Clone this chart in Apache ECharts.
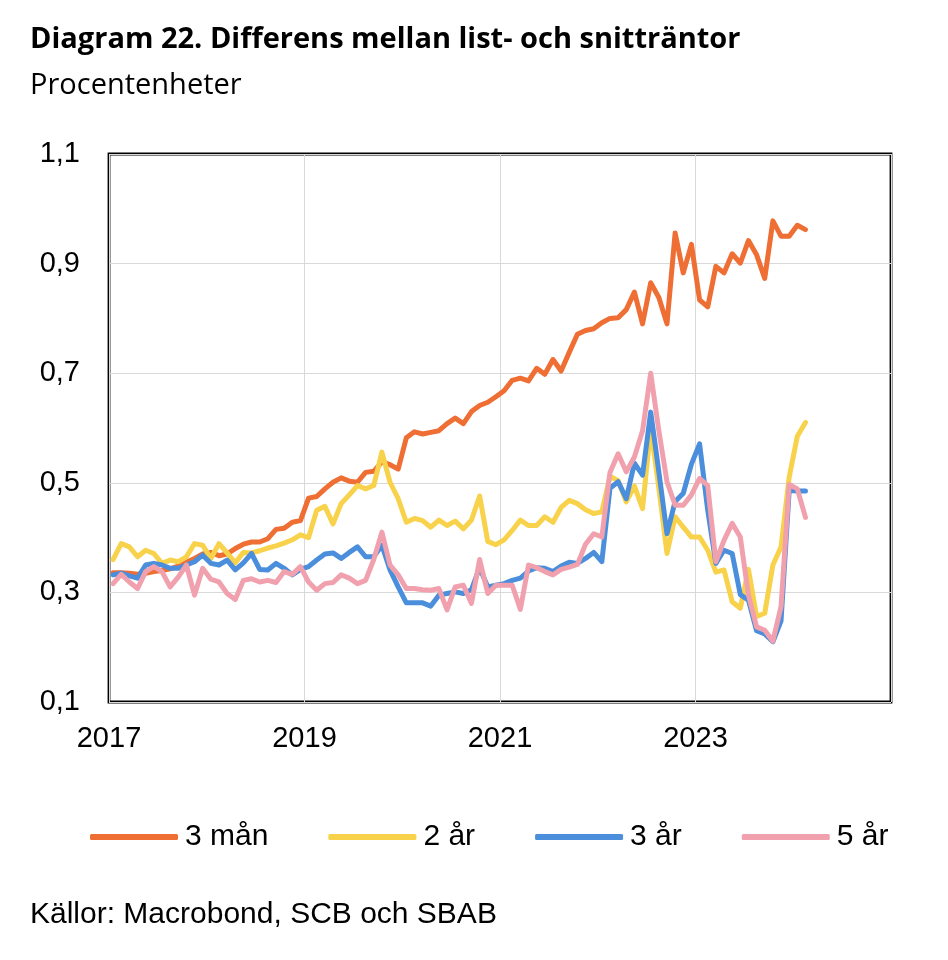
<!DOCTYPE html>
<html>
<head>
<meta charset="utf-8">
<script src="https://cdn.jsdelivr.net/npm/echarts@6/dist/echarts.min.js"></script>
<style>
  html, body { margin: 0; padding: 0; background: #fff; }
  #chart { width: 948px; height: 960px; }
</style>
</head>
<body>
<div id="chart"></div>
<script>
// Månadsdata jan 2017 - feb 2024 (procentenheter)
const startYear = 2017;
const seriesNames = ['3 mån', '2 år', '3 år', '5 år'];
const seriesColors = ['#EE6E34', '#F8D24A', '#4A8EDC', '#F1A1AE'];

const man3 = [
  0.336, 0.336, 0.335, 0.333, 0.335, 0.338, 0.340, 0.343, 0.348, 0.355, 0.362, 0.370, 0.373, 0.367,
  0.370, 0.380, 0.388, 0.392, 0.392, 0.398, 0.415, 0.417, 0.428, 0.431, 0.472, 0.475, 0.489, 0.501, 0.509, 0.503,
  0.501, 0.519, 0.521, 0.538, 0.533, 0.525, 0.582, 0.593, 0.589, 0.592, 0.595, 0.608, 0.618, 0.608, 0.630, 0.641, 0.647, 0.657,
  0.668, 0.687, 0.691, 0.686, 0.709, 0.698, 0.725, 0.704, 0.738, 0.771, 0.778,
  0.781, 0.792, 0.800, 0.801, 0.816, 0.848, 0.790, 0.865, 0.838, 0.790, 0.956, 0.883, 0.935,
  0.834, 0.821, 0.895, 0.883, 0.918, 0.901, 0.942, 0.916, 0.873, 0.978, 0.950, 0.950, 0.970, 0.962
];
const ar2 = [
  0.360, 0.389, 0.383, 0.365, 0.377, 0.371, 0.353, 0.359, 0.356, 0.365, 0.389, 0.386, 0.362, 0.389,
  0.372, 0.354, 0.373, 0.372, 0.376, 0.381, 0.385, 0.390, 0.396, 0.405, 0.400, 0.450, 0.457, 0.425, 0.462, 0.478,
  0.495, 0.489, 0.495, 0.556, 0.501, 0.471, 0.428, 0.435, 0.431, 0.419, 0.432, 0.422, 0.430, 0.416, 0.432, 0.476, 0.393, 0.387,
  0.396, 0.413, 0.432, 0.422, 0.422, 0.438, 0.428, 0.455, 0.468, 0.462, 0.451, 0.444, 0.447,
  0.512, 0.504, 0.465, 0.494, 0.453, 0.600, 0.490, 0.371, 0.438, 0.419, 0.401, 0.401, 0.377,
  0.337, 0.341, 0.283, 0.271, 0.342, 0.256, 0.262, 0.350, 0.383, 0.510, 0.585, 0.610
];
const ar3 = [
  0.332, 0.335, 0.330, 0.326, 0.350, 0.353, 0.350, 0.344, 0.344, 0.350, 0.356, 0.368, 0.353, 0.350,
  0.359, 0.341, 0.354, 0.371, 0.342, 0.341, 0.353, 0.344, 0.332, 0.342, 0.347, 0.359, 0.370, 0.372, 0.362, 0.373,
  0.383, 0.365, 0.365, 0.386, 0.341, 0.310, 0.281, 0.281, 0.281, 0.275, 0.295, 0.298, 0.301, 0.298, 0.305, 0.345, 0.310, 0.313,
  0.316, 0.322, 0.326, 0.339, 0.345, 0.344, 0.338, 0.348, 0.355, 0.353, 0.362, 0.373, 0.356,
  0.490, 0.502, 0.471, 0.536, 0.514, 0.629, 0.520, 0.407, 0.466, 0.481, 0.534, 0.571, 0.450,
  0.353, 0.377, 0.371, 0.296, 0.286, 0.230, 0.224, 0.210, 0.248, 0.486, 0.485, 0.485
];
const ar5 = [
  0.316, 0.333, 0.319, 0.307, 0.338, 0.347, 0.338, 0.310, 0.328, 0.350, 0.295, 0.344, 0.324, 0.319,
  0.298, 0.287, 0.322, 0.325, 0.319, 0.322, 0.318, 0.338, 0.333, 0.347, 0.319, 0.304, 0.316, 0.318, 0.332, 0.326,
  0.316, 0.322, 0.360, 0.410, 0.350, 0.332, 0.307, 0.307, 0.305, 0.304, 0.307, 0.268, 0.310, 0.313, 0.280, 0.360, 0.298, 0.313,
  0.313, 0.313, 0.269, 0.350, 0.345, 0.338, 0.332, 0.342, 0.346, 0.351, 0.388, 0.407, 0.401,
  0.519, 0.553, 0.520, 0.547, 0.595, 0.700, 0.595, 0.502, 0.459, 0.459, 0.478, 0.508, 0.495,
  0.356, 0.395, 0.426, 0.401, 0.295, 0.237, 0.231, 0.211, 0.274, 0.497, 0.489, 0.437
];
const allValues = [man3, ar2, ar3, ar5];

const fontMain = '"Liberation Sans", Arial, sans-serif';
const fontHead = '"Open Sans", "Liberation Sans", sans-serif';

// x = månader sedan jan 2017, punkten mitt i månaden
function toPoints(values) {
  return values.map((v, i) => [i + 0.5, v]);
}

const chart = echarts.init(document.getElementById('chart'));

const option = {
  backgroundColor: '#fff',
  animation: false,
  title: [
    {
      text: 'Diagram 22. Differens mellan list- och snitträntor',
      left: 30, top: 25, padding: 0,
      textStyle: { fontFamily: fontHead, fontWeight: 'bold', fontSize: 29, color: '#000' }
    },
    {
      text: 'Procentenheter',
      left: 30, top: 71, padding: 0,
      textStyle: { fontFamily: fontHead, fontWeight: 'normal', fontSize: 29, color: '#000' }
    },
    {
      text: 'Källor: Macrobond, SCB och SBAB',
      left: 30, top: 900, padding: 0,
      textStyle: { fontFamily: fontMain, fontWeight: 'normal', fontSize: 30, color: '#000' }
    }
  ],
  grid: {
    left: 109, right: 57, top: 154, bottom: 258,
    show: true, borderColor: '#000', borderWidth: 2.8, backgroundColor: 'transparent'
  },
  legend: {
    data: seriesNames,
    left: 90, top: 822, padding: 0,
    itemWidth: 88, itemHeight: 6, itemGap: 60,
    icon: 'roundRect',
    textStyle: { fontFamily: fontMain, fontSize: 30, color: '#000', padding: [0, 0, 0, 2] }
  },
  xAxis: {
    type: 'value',
    min: 0, max: 96, interval: 24,
    axisLine: { show: false },
    axisTick: { show: false },
    axisLabel: {
      color: '#000', fontFamily: fontMain, fontSize: 29, margin: 22,
      formatter: v => (v < 96 ? String(startYear + v / 12) : '')
    },
    splitLine: { show: true, lineStyle: { color: '#d9d9d9', width: 1 } }
  },
  yAxis: {
    type: 'value',
    min: 0.1, max: 1.1, interval: 0.2,
    axisLine: { show: false },
    axisTick: { show: false },
    axisLabel: {
      color: '#000', fontFamily: fontMain, fontSize: 29, margin: 29,
      formatter: v => v.toFixed(1).replace('.', ',')
    },
    splitLine: { show: true, lineStyle: { color: '#d9d9d9', width: 1 } }
  },
  series: allValues.map((vals, idx) => ({
    name: seriesNames[idx],
    type: 'line',
    data: toPoints(vals),
    showSymbol: false,
    symbol: 'none',
    lineStyle: { color: seriesColors[idx], width: 5, cap: 'round', join: 'round' },
    itemStyle: { color: seriesColors[idx] }
  }))
};

chart.setOption(option);
</script>
</body>
</html>
